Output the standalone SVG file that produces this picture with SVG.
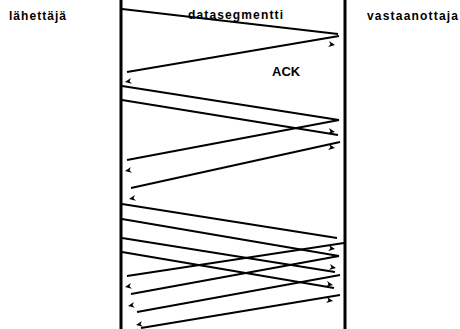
<svg xmlns="http://www.w3.org/2000/svg" xmlns:xlink="http://www.w3.org/1999/xlink" width="460" height="329" viewBox="0 0 460 329">
<style>
.lbl{font-family:"Liberation Sans",Arial,sans-serif;font-weight:bold;font-size:12px;fill:#000}
.ack{font-size:13px}
.life{stroke:#000;stroke-width:3;fill:none}
.msg{stroke:#000;stroke-width:2;fill:none}
.ah{fill:#000}
</style>
<defs>
<path id="ah" class="ah" d="M0,0 L-6.5,-3 L-4.6,0 L-6.5,3 Z"/>
</defs>
<rect width="460" height="329" fill="#fff"/>
<g id="sender">
<line class="life" x1="121" y1="0" x2="121" y2="329"/>
<text class="lbl" x="9" y="20" textLength="57" lengthAdjust="spacing">lähettäjä</text>
</g>
<g id="receiver">
<line class="life" x1="345" y1="0" x2="345" y2="329"/>
<text class="lbl" x="367" y="20" textLength="91" lengthAdjust="spacing">vastaanottaja</text>
</g>
<g id="labels">
<text class="lbl" x="188" y="19" textLength="95" lengthAdjust="spacing">datasegmentti</text>
<text class="lbl ack" x="272" y="76">ACK</text>
</g>
<g id="connectors">
<line class="msg" x1="122" y1="9" x2="338" y2="34"/>
<line class="msg" x1="339" y1="36" x2="127" y2="72"/>
<line class="msg" x1="122" y1="86" x2="339" y2="120"/>
<line class="msg" x1="122" y1="100" x2="338" y2="135"/>
<line class="msg" x1="339" y1="120" x2="127" y2="160"/>
<line class="msg" x1="340" y1="142" x2="131" y2="188"/>
<line class="msg" x1="122" y1="204" x2="337" y2="238"/>
<line class="msg" x1="122" y1="219" x2="339" y2="256"/>
<line class="msg" x1="122" y1="238" x2="335" y2="272"/>
<line class="msg" x1="122" y1="252" x2="334" y2="288"/>
<line class="msg" x1="344" y1="243" x2="127" y2="276"/>
<line class="msg" x1="339" y1="256" x2="131" y2="294"/>
<line class="msg" x1="340" y1="275" x2="137" y2="312"/>
<line class="msg" x1="340" y1="295" x2="141" y2="328"/>
<use xlink:href="#ah" transform="translate(335,45) rotate(9)"/>
<use xlink:href="#ah" transform="translate(335,132) rotate(9)"/>
<use xlink:href="#ah" transform="translate(335,148) rotate(9)"/>
<use xlink:href="#ah" transform="translate(335,249) rotate(9)"/>
<use xlink:href="#ah" transform="translate(336,268) rotate(9)"/>
<use xlink:href="#ah" transform="translate(333,285) rotate(9)"/>
<use xlink:href="#ah" transform="translate(333,301) rotate(9)"/>
<use xlink:href="#ah" transform="translate(125,82) rotate(170)"/>
<use xlink:href="#ah" transform="translate(125,171) rotate(170)"/>
<use xlink:href="#ah" transform="translate(129,199) rotate(170)"/>
<use xlink:href="#ah" transform="translate(125,287) rotate(170)"/>
<use xlink:href="#ah" transform="translate(128,306) rotate(170)"/>
<use xlink:href="#ah" transform="translate(136,325) rotate(170)"/>
</g>
</svg>
